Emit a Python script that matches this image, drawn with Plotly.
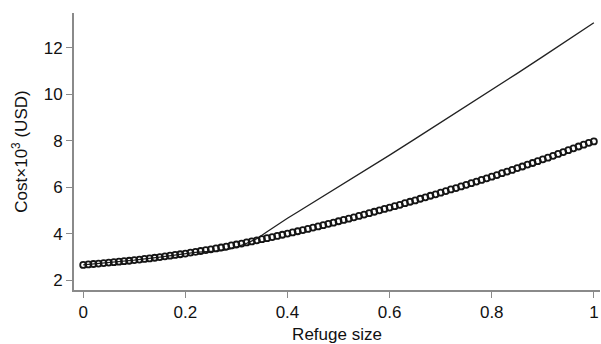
import plotly.graph_objects as go

refuge_x = [i / 100 for i in range(101)]
cost_circles = [
    2.65, 2.67, 2.69, 2.71, 2.73, 2.75, 2.77, 2.79, 2.81, 2.83,
    2.86, 2.88, 2.91, 2.93, 2.96, 2.99, 3.02, 3.05, 3.08, 3.11,
    3.14, 3.18, 3.21, 3.25, 3.29, 3.32, 3.36, 3.40, 3.44, 3.49,
    3.53, 3.57, 3.62, 3.66, 3.71, 3.76, 3.80, 3.85, 3.90, 3.95,
    4.00, 4.05, 4.10, 4.15, 4.20, 4.26, 4.31, 4.36, 4.42, 4.47,
    4.53, 4.59, 4.64, 4.70, 4.76, 4.82, 4.88, 4.94, 5.00, 5.06,
    5.12, 5.18, 5.24, 5.31, 5.37, 5.43, 5.50, 5.56, 5.63, 5.69,
    5.76, 5.83, 5.90, 5.96, 6.03, 6.10, 6.17, 6.24, 6.31, 6.38,
    6.45, 6.52, 6.60, 6.67, 6.74, 6.82, 6.89, 6.97, 7.04, 7.12,
    7.20, 7.27, 7.35, 7.43, 7.51, 7.59, 7.67, 7.75, 7.83, 7.91,
    7.97,
]

line_x = [0, 0.05, 0.1, 0.15, 0.2, 0.22, 0.24, 0.26, 0.28, 0.30, 0.32, 0.34,
          0.36, 0.38, 0.40, 0.42, 0.44, 0.46, 0.5, 0.55, 0.6, 0.65, 0.7, 0.75,
          0.8, 0.85, 0.9, 0.95, 1.0]
line_y = [2.65, 2.75, 2.86, 2.99, 3.14, 3.19, 3.22, 3.24, 3.30, 3.42, 3.58, 3.78,
          4.08, 4.38, 4.66, 4.93, 5.20, 5.47, 6.02, 6.70, 7.38, 8.08, 8.78, 9.48,
          10.2, 10.9, 11.62, 12.35, 13.08]

x_ticks = [0, 0.2, 0.4, 0.6, 0.8, 1]
x_tick_labels = ["0", "0.2", "0.4", "0.6", "0.8", "1"]
y_ticks = [2, 4, 6, 8, 10, 12]
y_tick_labels = ["2", "4", "6", "8", "10", "12"]

FONT = "Liberation Sans, Arial, sans-serif"

fig = go.Figure()
fig.add_trace(go.Scatter(
    x=line_x, y=line_y, mode="lines",
    line=dict(color="#222222", width=1.3), showlegend=False,
))
fig.add_trace(go.Scatter(
    x=refuge_x, y=cost_circles, mode="markers",
    marker=dict(symbol="circle-open", size=6, color="#151515",
                line=dict(width=1.8, color="#151515")),
    showlegend=False,
))

axis_common = dict(
    showgrid=False, zeroline=False, showline=True, linecolor="#8a8a8a",
    linewidth=2, ticks="outside", tickcolor="#8a8a8a", ticklen=6, tickwidth=1,
    tickfont=dict(family=FONT, size=17, color="#111111"),
    automargin=False,
)

fig.update_layout(
    width=601, height=344,
    margin=dict(l=74, r=1, t=13, b=54),
    plot_bgcolor="white", paper_bgcolor="white",
    xaxis=dict(range=[-0.018, 1.012], tickvals=x_ticks, ticktext=x_tick_labels,
               title=dict(text="Refuge size", standoff=9,
                          font=dict(family=FONT, size=17, color="#111111")),
               **axis_common),
    yaxis=dict(range=[1.57, 13.5], tickvals=y_ticks, ticktext=y_tick_labels,
               title=dict(text="Cost×10<sup>3</sup> (USD)", standoff=12,
                          font=dict(family=FONT, size=17, color="#111111")),
               **axis_common),
)

fig.write_html("out.html",
               config={"displayModeBar": False},
               post_script="document.body.style.margin='0px';document.body.style.overflow='hidden';")
